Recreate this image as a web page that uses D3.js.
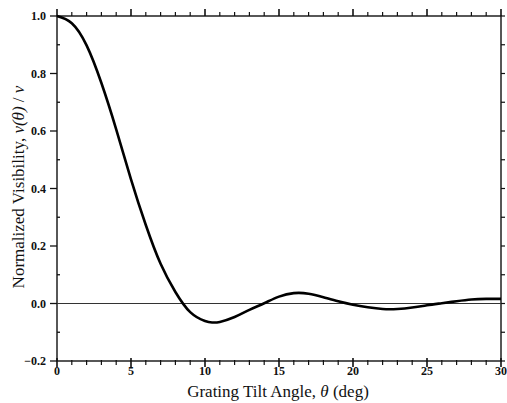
<!DOCTYPE html>
<html>
<head>
<meta charset="utf-8">
<script src="https://cdn.jsdelivr.net/npm/d3@7"></script>
<style>
  body { margin: 0; background: #fff; }
  svg { display: block; }
  .tick-label { font-family: "Liberation Serif", "DejaVu Serif", serif; font-weight: bold; font-size: 12px; fill: #111; }
  .title { font-family: "Liberation Serif", "DejaVu Serif", serif; font-size: 17px; fill: #111; }
</style>
</head>
<body>
<svg id="chart" width="507" height="403"></svg>
<script>
// tilt angle (deg) and normalized visibility
const angles = [0, 1, 2, 3, 4, 5, 6, 7, 8, 9, 10, 10.5, 11, 12, 13, 14, 15, 16, 17, 18, 19, 20, 21, 22, 23, 24, 25, 26, 27, 28, 29, 30];
const visibility = [1.0, 0.975, 0.898, 0.767, 0.606, 0.432, 0.273, 0.138, 0.04, -0.03, -0.061, -0.066, -0.064, -0.047, -0.022, 0.001, 0.024, 0.036, 0.034, 0.022, 0.008, -0.004, -0.013, -0.019, -0.019, -0.014, -0.006, 0.001, 0.008, 0.014, 0.016, 0.016];

const xTickValues = [0, 5, 10, 15, 20, 25, 30];
const yTickValues = [-0.2, 0.0, 0.2, 0.4, 0.6, 0.8, 1.0];

const margin = { top: 16, right: 6, bottom: 42, left: 57 };
const width = 507;
const height = 403;

const svg = d3.select('#chart');

const x = d3.scaleLinear().domain([0, 30]).range([margin.left, width - margin.right]);
const y = d3.scaleLinear().domain([-0.2, 1.0]).range([height - margin.bottom, margin.top]);

const ink = '#111';

// frame
svg.append('rect')
  .attr('x', x(0)).attr('y', y(1))
  .attr('width', x(30) - x(0)).attr('height', y(-0.2) - y(1))
  .attr('fill', 'none').attr('stroke', ink).attr('stroke-width', 1.4);

// zero line
svg.append('line')
  .attr('x1', x(0)).attr('x2', x(30))
  .attr('y1', y(0)).attr('y2', y(0))
  .attr('stroke', '#333').attr('stroke-width', 1);

// degree ticks, top and bottom
const degTicks = d3.range(0, 31);
svg.append('g').selectAll('line')
  .data(degTicks)
  .join('line')
  .attr('x1', d => x(d)).attr('x2', d => x(d))
  .attr('y1', d => y(-0.2) - (d % 5 === 0 ? 3 : 1))
  .attr('y2', d => y(-0.2) + (d % 5 === 0 ? 6 : 4))
  .attr('stroke', ink).attr('stroke-width', d => (d % 5 === 0 ? 1.6 : 1.2));

svg.append('g').selectAll('line')
  .data(degTicks)
  .join('line')
  .attr('x1', d => x(d)).attr('x2', d => x(d))
  .attr('y1', y(1))
  .attr('y2', d => y(1) - (d % 5 === 0 ? 7 : 4))
  .attr('stroke', ink).attr('stroke-width', d => (d % 5 === 0 ? 1.6 : 1.2));

// visibility ticks, left and right
const visTicks = d3.range(-2, 11).map(d => d / 10);
svg.append('g').selectAll('line')
  .data(visTicks)
  .join('line')
  .attr('x1', d => (Math.round(d * 10) % 2 === 0 ? x(0) - 7 : x(0)))
  .attr('x2', d => (Math.round(d * 10) % 2 === 0 ? x(0) : x(0) + 3))
  .attr('y1', d => y(d)).attr('y2', d => y(d))
  .attr('stroke', ink).attr('stroke-width', 1.3);

svg.append('g').selectAll('line')
  .data(visTicks)
  .join('line')
  .attr('x1', x(30)).attr('x2', x(30) + 4)
  .attr('y1', d => y(d)).attr('y2', d => y(d))
  .attr('stroke', ink).attr('stroke-width', 1.2);

// tick labels
svg.append('g').selectAll('text')
  .data(xTickValues)
  .join('text')
  .attr('class', 'tick-label')
  .attr('x', d => x(d))
  .attr('y', y(-0.2) + 14)
  .attr('text-anchor', 'middle')
  .text(d => d);

svg.append('g').selectAll('text')
  .data(yTickValues)
  .join('text')
  .attr('class', 'tick-label')
  .attr('x', x(0) - 11)
  .attr('y', d => y(d) + 4)
  .attr('text-anchor', 'end')
  .text(d => d3.format('.1f')(d));

// curve
const line = d3.line()
  .x((d, i) => x(angles[i]))
  .y(d => y(d))
  .curve(d3.curveNatural);

svg.append('path')
  .datum(visibility)
  .attr('d', line)
  .attr('fill', 'none')
  .attr('stroke', '#000')
  .attr('stroke-width', 2.6)
  .attr('stroke-linejoin', 'round');

// axis titles
const xTitle = svg.append('text')
  .attr('class', 'title')
  .attr('x', 278)
  .attr('y', 397)
  .attr('text-anchor', 'middle');
xTitle.append('tspan').text('Grating Tilt Angle, ');
xTitle.append('tspan').attr('font-style', 'italic').text('θ');
xTitle.append('tspan').text(' (deg)');

const yTitle = svg.append('text')
  .attr('class', 'title')
  .attr('transform', 'translate(24,187) rotate(-90)')
  .attr('text-anchor', 'middle');
yTitle.append('tspan').text('Normalized Visibility, ');
yTitle.append('tspan').attr('font-style', 'italic').text('ν(θ)');
yTitle.append('tspan').text(' / ');
yTitle.append('tspan').attr('font-style', 'italic').text('ν');
</script>
</body>
</html>
